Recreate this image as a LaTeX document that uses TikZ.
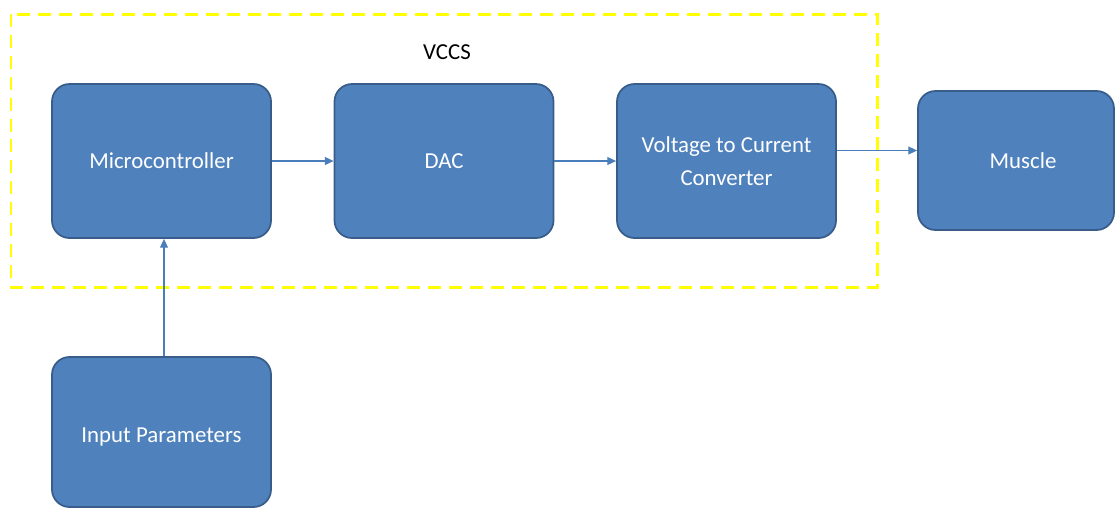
\documentclass[tikz,border=0pt]{standalone}
\usepackage{fontspec}
\setmainfont{Carlito}
\usetikzlibrary{arrows.meta}
\definecolor{boxfill}{HTML}{4F81BD}
\definecolor{boxline}{HTML}{385D8A}
\definecolor{arrline}{HTML}{4A7EBB}
\definecolor{vccsline}{HTML}{FFFF00}
\begin{document}
\begin{tikzpicture}[scale=0.2]
\tikzstyle{every node}+=[inner sep=0pt]
\tikzstyle{block}=[draw=boxline, fill=boxfill, line width=1pt, rounded corners=10pt, text=white, align=center, font=\fontsize{13}{18.7}\selectfont, minimum width=4.38cm, minimum height=3.08cm]
\tikzstyle{arr}=[draw=arrline, line width=0.7pt, -{Triangle[length=5pt,width=4.5pt]}]
\useasboundingbox (0,0) rectangle (111.6,-50.8);
\draw [vccsline, line width=1.7pt, dash pattern=on 7.4pt off 4.5pt] (1.1,-1.4) rectangle (87.7,-28.7);
\node (vccs) at (44.7,-5.2) {\fontsize{13}{15.6}\selectfont VCCS};
\node [block] (micro) at (16.15,-16.1) {Microcontroller};
\node [block] (dac) at (44.4,-16.1) {DAC};
\node [block] (vtoc) at (72.65,-16.1) {Voltage to Current\\Converter};
\node [block, minimum width=3.92cm, minimum height=2.78cm] (muscle) at (101.6,-16.05) {\hspace{0.28cm}Muscle};
\node [block, minimum height=3.0cm] (input) at (16.15,-43.2) {\raisebox{-0.1cm}[\height][\depth]{Input Parameters}};
\draw [arr] (micro) -- (dac);
\draw [arr] (dac) -- (vtoc);
\draw [arr] ([yshift=1.05cm]vtoc.east) -- ([yshift=1.05cm]vtoc.east -| muscle.west);
\draw [arr] ([xshift=0.25cm]input.north) -- ([xshift=0.25cm]micro.south);
\end{tikzpicture}
\end{document}
